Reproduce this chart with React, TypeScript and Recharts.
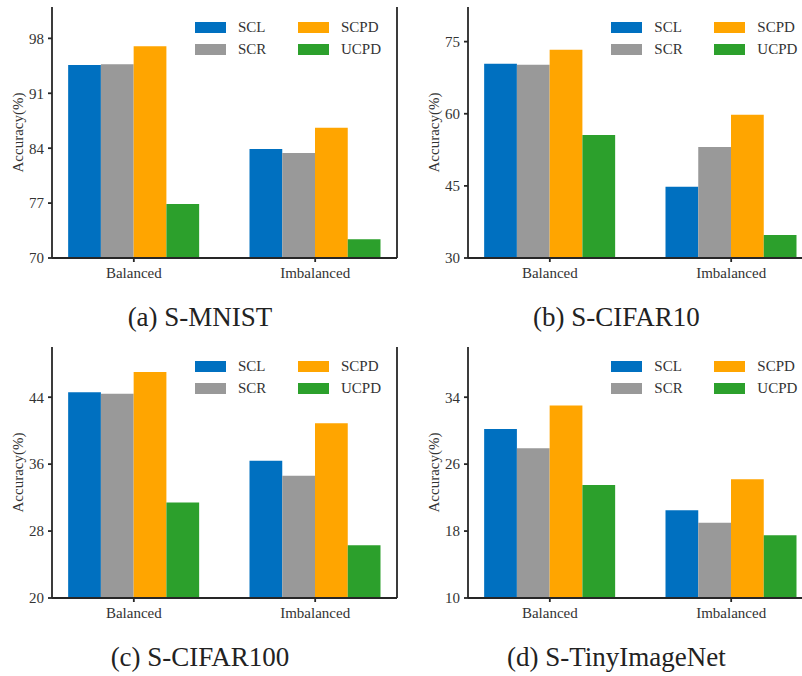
import { BarChart, Bar, XAxis, YAxis, Legend, Label } from 'recharts';

const groups = ['Balanced', 'Imbalanced'];
const methods = ['SCL', 'SCR', 'SCPD', 'UCPD'];
const methodColors = ['#0070c0', '#999999', '#ffa500', '#2ca02c'];

// accuracy (%) per method, in the order of `methods`
const mnistBalanced = [94.6, 94.7, 97.0, 76.9];
const mnistImbalanced = [83.9, 83.4, 86.6, 72.4];
const cifar10Balanced = [70.4, 70.2, 73.3, 55.6];
const cifar10Imbalanced = [44.8, 53.1, 59.8, 34.8];
const cifar100Balanced = [44.6, 44.4, 47.0, 31.4];
const cifar100Imbalanced = [36.4, 34.6, 40.9, 26.3];
const tinyBalanced = [30.2, 27.9, 33.0, 23.5];
const tinyImbalanced = [20.5, 19.0, 24.2, 17.5];

const mnistTicks = [70, 77, 84, 91, 98];
const cifar10Ticks = [30, 45, 60, 75];
const cifar100Ticks = [20, 28, 36, 44];
const tinyTicks = [10, 18, 26, 34];

const FONT = '"Liberation Serif", "Times New Roman", serif';
const INK = '#333333';
const FRAME = { stroke: '#262626', strokeWidth: 1.8 };

function buildRows(balanced: number[], imbalanced: number[]) {
  return groups.map((group, gi) => {
    const src = gi === 0 ? balanced : imbalanced;
    const row: Record<string, string | number> = { group };
    methods.forEach((m, mi) => {
      row[m] = src[mi];
    });
    return row;
  });
}

const renderYLabel = (props: any) => {
  const { x, y, height } = props.viewBox;
  const cx = x + 18;
  const cy = y + height / 2;
  return (
    <text
      x={cx}
      y={cy}
      transform={`rotate(-90, ${cx}, ${cy})`}
      textAnchor="middle"
      dominantBaseline="central"
      fontFamily={FONT}
      fontSize={15}
      fill={INK}
    >
      Accuracy(%)
    </text>
  );
};

const renderLegend = (props: any) => {
  const payload = props.payload || [];
  return (
    <div
      style={{
        display: 'grid',
        gridTemplateColumns: '103px auto',
        gridTemplateRows: '22px 22px',
        gridAutoFlow: 'column',
      }}
    >
      {methods.map((m, i) => {
        const entry = payload.find((p: any) => p.value === m);
        return (
          <div key={m} style={{ display: 'flex', alignItems: 'center' }}>
            <span
              style={{
                display: 'inline-block',
                width: 31,
                height: 11,
                marginRight: 12,
                background: entry ? entry.color : methodColors[i],
              }}
            />
            <span style={{ fontFamily: FONT, fontSize: 15, color: INK, lineHeight: '17px' }}>{m}</span>
          </div>
        );
      })}
    </div>
  );
};

interface PanelProps {
  left: number;
  top: number;
  caption: string;
  balanced: number[];
  imbalanced: number[];
  domain: [number, number];
  ticks: number[];
}

function AccuracyPanel({ left, top, caption, balanced, imbalanced, domain, ticks }: PanelProps) {
  const rows = buildRows(balanced, imbalanced);
  const tickStyle = { fontFamily: FONT, fontSize: 15, fill: INK };
  return (
    <div style={{ position: 'absolute', left, top, width: 400, height: 340 }}>
      <BarChart
        width={400}
        height={290}
        data={rows}
        margin={{ top: 7, right: 2, bottom: 2, left: 0 }}
        barSize={32.75}
        barGap={0}
      >
        <XAxis
          dataKey="group"
          height={30}
          padding={{ left: -8.85, right: -8.85 }}
          tickSize={4}
          tickMargin={5}
          tick={tickStyle}
          axisLine={FRAME}
          tickLine={FRAME}
        />
        <XAxis
          xAxisId="top"
          orientation="top"
          dataKey="group"
          height={0}
          tick={false}
          tickLine={false}
          axisLine={FRAME}
        />
        <YAxis
          width={52}
          type="number"
          domain={domain}
          ticks={ticks}
          interval={0}
          tickSize={4}
          tickMargin={4}
          tick={tickStyle}
          axisLine={FRAME}
          tickLine={FRAME}
        >
          <Label content={renderYLabel} />
        </YAxis>
        <YAxis
          yAxisId="right"
          orientation="right"
          width={1}
          type="number"
          domain={domain}
          ticks={ticks}
          tick={false}
          tickLine={false}
          axisLine={FRAME}
        />
        <Legend
          layout="vertical"
          align="center"
          verticalAlign="middle"
          content={renderLegend}
          wrapperStyle={{ left: 195, top: 16, width: 'auto', height: 'auto' }}
        />
        {methods.map((m, i) => (
          <Bar key={m} dataKey={m} name={m} fill={methodColors[i]} isAnimationActive={false} />
        ))}
      </BarChart>
      <div
        style={{
          position: 'absolute',
          left: 0,
          top: 302,
          width: 400,
          textAlign: 'center',
          fontFamily: FONT,
          fontSize: 27,
          lineHeight: '31px',
          color: '#222222',
          whiteSpace: 'nowrap',
        }}
      >
        {caption}
      </div>
    </div>
  );
}

export default function App() {
  return (
    <div
      style={{
        position: 'absolute',
        left: 0,
        top: 0,
        width: 802,
        height: 676,
        overflow: 'hidden',
        background: '#ffffff',
      }}
    >
      <AccuracyPanel
        left={0}
        top={0}
        caption="(a) S-MNIST"
        balanced={mnistBalanced}
        imbalanced={mnistImbalanced}
        domain={[70, 102]}
        ticks={mnistTicks}
      />
      <AccuracyPanel
        left={416.3}
        top={0}
        caption="(b) S-CIFAR10"
        balanced={cifar10Balanced}
        imbalanced={cifar10Imbalanced}
        domain={[30, 82.2]}
        ticks={cifar10Ticks}
      />
      <AccuracyPanel
        left={0}
        top={339.5}
        caption="(c) S-CIFAR100"
        balanced={cifar100Balanced}
        imbalanced={cifar100Imbalanced}
        domain={[20, 50]}
        ticks={cifar100Ticks}
      />
      <AccuracyPanel
        left={416.3}
        top={339.5}
        caption="(d) S-TinyImageNet"
        balanced={tinyBalanced}
        imbalanced={tinyImbalanced}
        domain={[10, 40]}
        ticks={tinyTicks}
      />
    </div>
  );
}
